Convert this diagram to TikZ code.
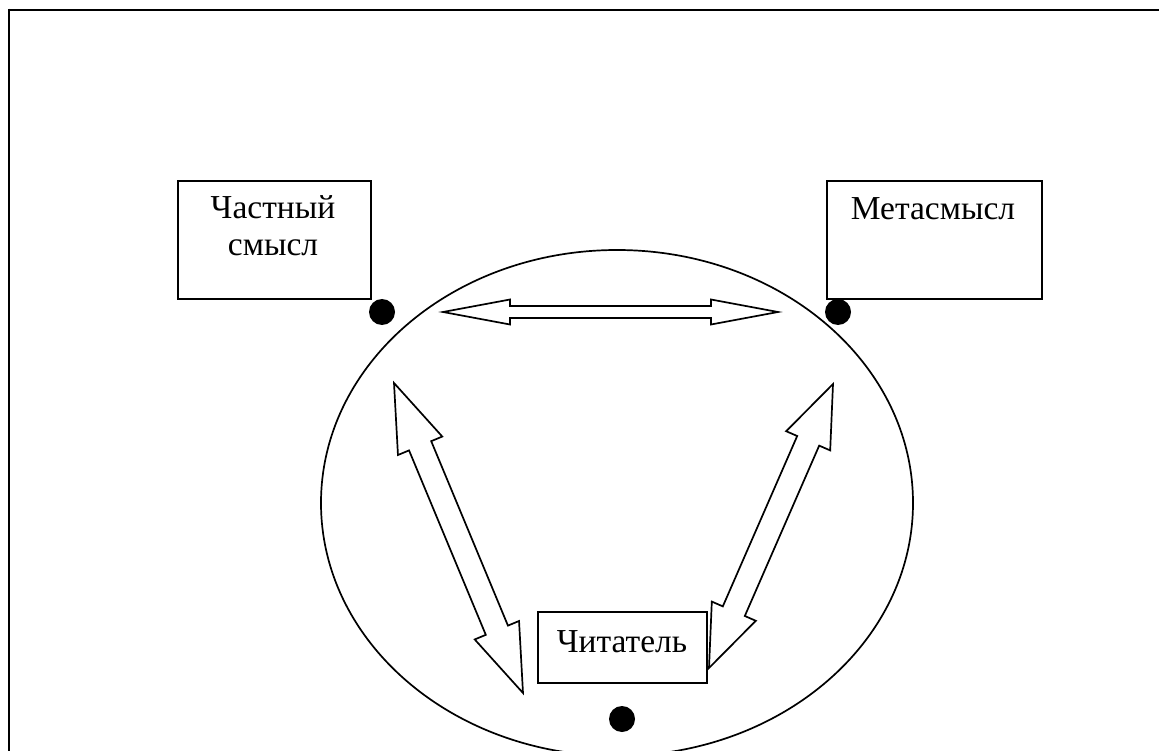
\documentclass[tikz,border=0pt]{standalone}
\usepackage{fontspec}
\setmainfont{Liberation Serif}
\usetikzlibrary{calc}
\tikzset{
  box/.style={draw, line width=2pt, inner sep=0pt},
  lbl/.style={inner sep=0pt, font=\fontsize{33.5}{37}\selectfont, align=center},
  dot/.style={circle, fill=black, inner sep=0pt, minimum size=26pt},
  arrowshape/.style={draw, line width=1.7pt, line join=miter, fill=white},
  frame/.style={line width=2.6pt},
  oval/.style={draw, line width=1.7pt}
}
\newcommand\dblarr[5]{%
  \draw[arrowshape] (#1)
    -- ($(#1)!#3!(#2)!#4!90:(#2)$) -- ($(#1)!#3!(#2)!#5!90:(#2)$)
    -- ($(#2)!#3!(#1)!#5!-90:(#1)$) -- ($(#2)!#3!(#1)!#4!-90:(#1)$)
    -- (#2)
    -- ($(#2)!#3!(#1)!#4!90:(#1)$) -- ($(#2)!#3!(#1)!#5!90:(#1)$)
    -- ($(#1)!#3!(#2)!#5!-90:(#2)$) -- ($(#1)!#3!(#2)!#4!-90:(#2)$)
    -- cycle;}
\begin{document}
\begin{tikzpicture}[x=1pt,y=-1pt]
\useasboundingbox (0,0) rectangle (1159,751);
% frame
\draw[frame] (9,10) -- (1162,10);
\draw[frame] (9,8.7) -- (9,755);
% ellipse
\draw[oval] (617,503) ellipse [x radius=296, y radius=253];
% boxes
\node[box, minimum width=193pt, minimum height=118pt] (ps) at (274.5,240) {};
\node[box, minimum width=215pt, minimum height=118pt] (ms) at (934.5,240) {};
\node[box, minimum width=169pt, minimum height=71pt] (rd) at (622.5,647.5) {};
% texts
\node[lbl, anchor=base] (pst) at (273,219) {Частный};
\node[lbl, anchor=base] (pst2) at (273,256) {смысл};
\node[lbl, anchor=base] (mst) at (933,220) {Метасмысл};
\node[lbl, anchor=base] (rdt) at (622,652) {Читатель};
% dots
\node[dot] (d1) at (382,312) {};
\node[dot] (d2) at (838,312) {};
\node[dot] (d3) at (622,719) {};
% arrow tips
\coordinate (h1) at (443,312);
\coordinate (h2) at (778,312);
\coordinate (l1) at (394,383);
\coordinate (l2) at (523,693);
\coordinate (r1) at (833,384);
\coordinate (r2) at (709,668);
\dblarr{h1}{h2}{67pt}{12.5pt}{6pt}
\dblarr{l1}{l2}{68pt}{24pt}{12pt}
\dblarr{r1}{r2}{62pt}{24pt}{12pt}
\end{tikzpicture}
\end{document}
